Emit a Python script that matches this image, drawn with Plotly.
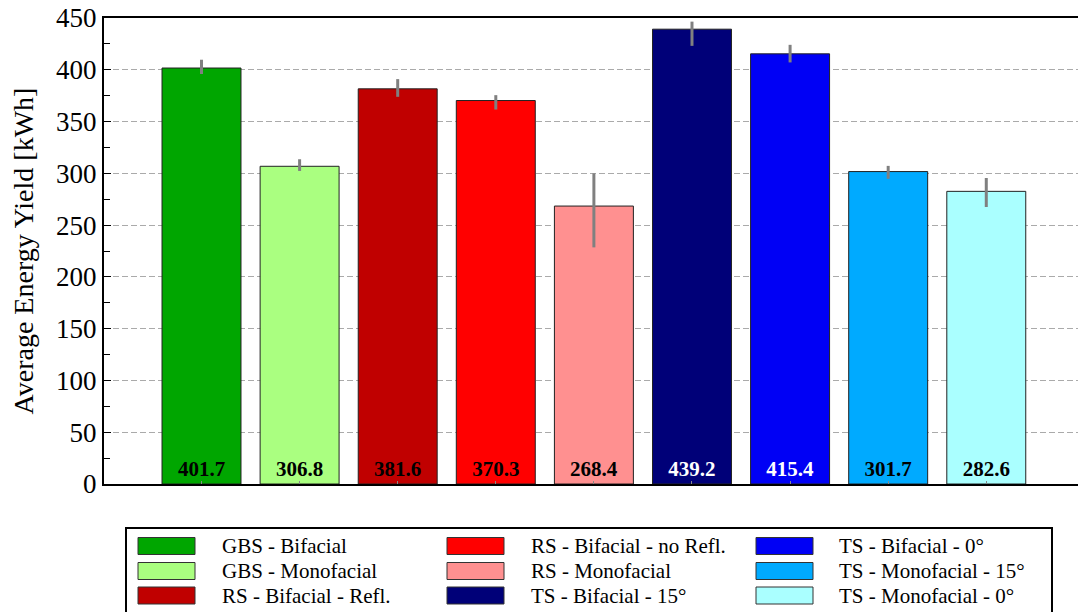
import plotly.graph_objects as go

# Configurations and their average yields [kWh]
configs = [
    "GBS - Bifacial", "GBS - Monofacial", "RS - Bifacial - Refl.",
    "RS - Bifacial - no Refl.", "RS - Monofacial", "TS - Bifacial - 15°",
    "TS - Bifacial - 0°", "TS - Monofacial - 15°", "TS - Monofacial - 0°",
]
yields = [401.7, 306.8, 381.6, 370.3, 268.4, 439.2, 415.4, 301.7, 282.6]
err_plus = [8.0, 6.8, 9.4, 5.2, 31.6, 7.3, 8.7, 5.5, 12.9]
err_minus = [5.8, 4.5, 7.7, 8.7, 39.9, 16.1, 8.3, 7.0, 15.1]
colors = ["#00A600", "#AAFF80", "#C00000", "#FF0000", "#FF9090",
          "#000078", "#0000F5", "#00AAFF", "#AAFFFF"]
label_colors = ["black", "black", "black", "black", "black",
                "white", "white", "black", "black"]
y_ticks = [0, 50, 100, 150, 200, 250, 300, 350, 400, 450]

SERIF = "Liberation Serif"

x = list(range(len(configs)))

fig = go.Figure()
fig.add_trace(go.Bar(
    x=x, y=yields,
    marker=dict(color=colors, line=dict(color="#222222", width=1)),
    error_y=dict(type="data", array=err_plus, arrayminus=err_minus,
                 color="#808080", thickness=3, width=0, symmetric=False),
    text=[f"<b>{v:.1f}</b>" for v in yields],
    textposition="inside", insidetextanchor="start", textangle=0,
    textfont=dict(family=SERIF, size=21, color=label_colors),
    showlegend=False, cliponaxis=False,
))

fig.update_layout(
    width=1078, height=612,
    margin=dict(l=104, r=0, t=18, b=128),
    paper_bgcolor="white", plot_bgcolor="white",
    bargap=0.195,
    font=dict(family=SERIF, color="black"),
    xaxis=dict(range=[-0.994, 8.935], tickvals=x, showticklabels=False,
               ticks="inside", ticklen=3, tickcolor="#888888",
               showline=True, linecolor="black", linewidth=2, mirror=True,
               showgrid=False, zeroline=False),
    yaxis=dict(range=[0, 450], tickvals=y_ticks, ticks="inside", ticklen=7,
               tickcolor="black", tickwidth=1,
               minor=dict(dtick=25, ticks="inside", ticklen=6,
                          tickcolor="black", showgrid=False),
               showline=True, linecolor="black", linewidth=2,
               showgrid=True, gridcolor="#aaaaaa", gridwidth=1.2,
               griddash="6px,3px", zeroline=False,
               tickfont=dict(family=SERIF, size=27),
               title=dict(text="Average Energy Yield [kWh]",
                          font=dict(family=SERIF, size=28), standoff=14)),
)

# Legend box: three columns, filled column by column
px_w, px_h = 1078.0, 612.0
plot_l, plot_b, plot_h, plot_w = 104.0, 128.0, 466.0, 974.0


def to_paper(xp, yp):
    return (xp - plot_l) / plot_w, (px_h - plot_b - yp) / plot_h


bx0, by0 = to_paper(126, 528)
bx1, by1 = to_paper(1052, 616)
fig.add_shape(type="rect", xref="paper", yref="paper",
              x0=bx0, x1=bx1, y0=by1, y1=by0,
              line=dict(color="black", width=2), fillcolor="white", layer="above")

col_swatch = [138, 447, 756]
col_text = [220, 529, 837]
row_centers = [546, 571, 595.5]
for i, (name, col) in enumerate(zip(configs, colors)):
    c, r = divmod(i, 3)
    sx0, sy0 = to_paper(col_swatch[c], row_centers[r] - 8.5)
    sx1, sy1 = to_paper(col_swatch[c] + 57, row_centers[r] + 8.5)
    fig.add_shape(type="rect", xref="paper", yref="paper",
                  x0=sx0, x1=sx1, y0=sy1, y1=sy0,
                  line=dict(color="#333333", width=1), fillcolor=col,
                  layer="above")
    tx, ty = to_paper(col_text[c], row_centers[r])
    fig.add_annotation(xref="paper", yref="paper", x=tx, y=ty,
                       text=name,
                       showarrow=False, xanchor="left", yanchor="middle",
                       font=dict(family=SERIF, size=21, color="black"))

fig.write_html("out.html")
